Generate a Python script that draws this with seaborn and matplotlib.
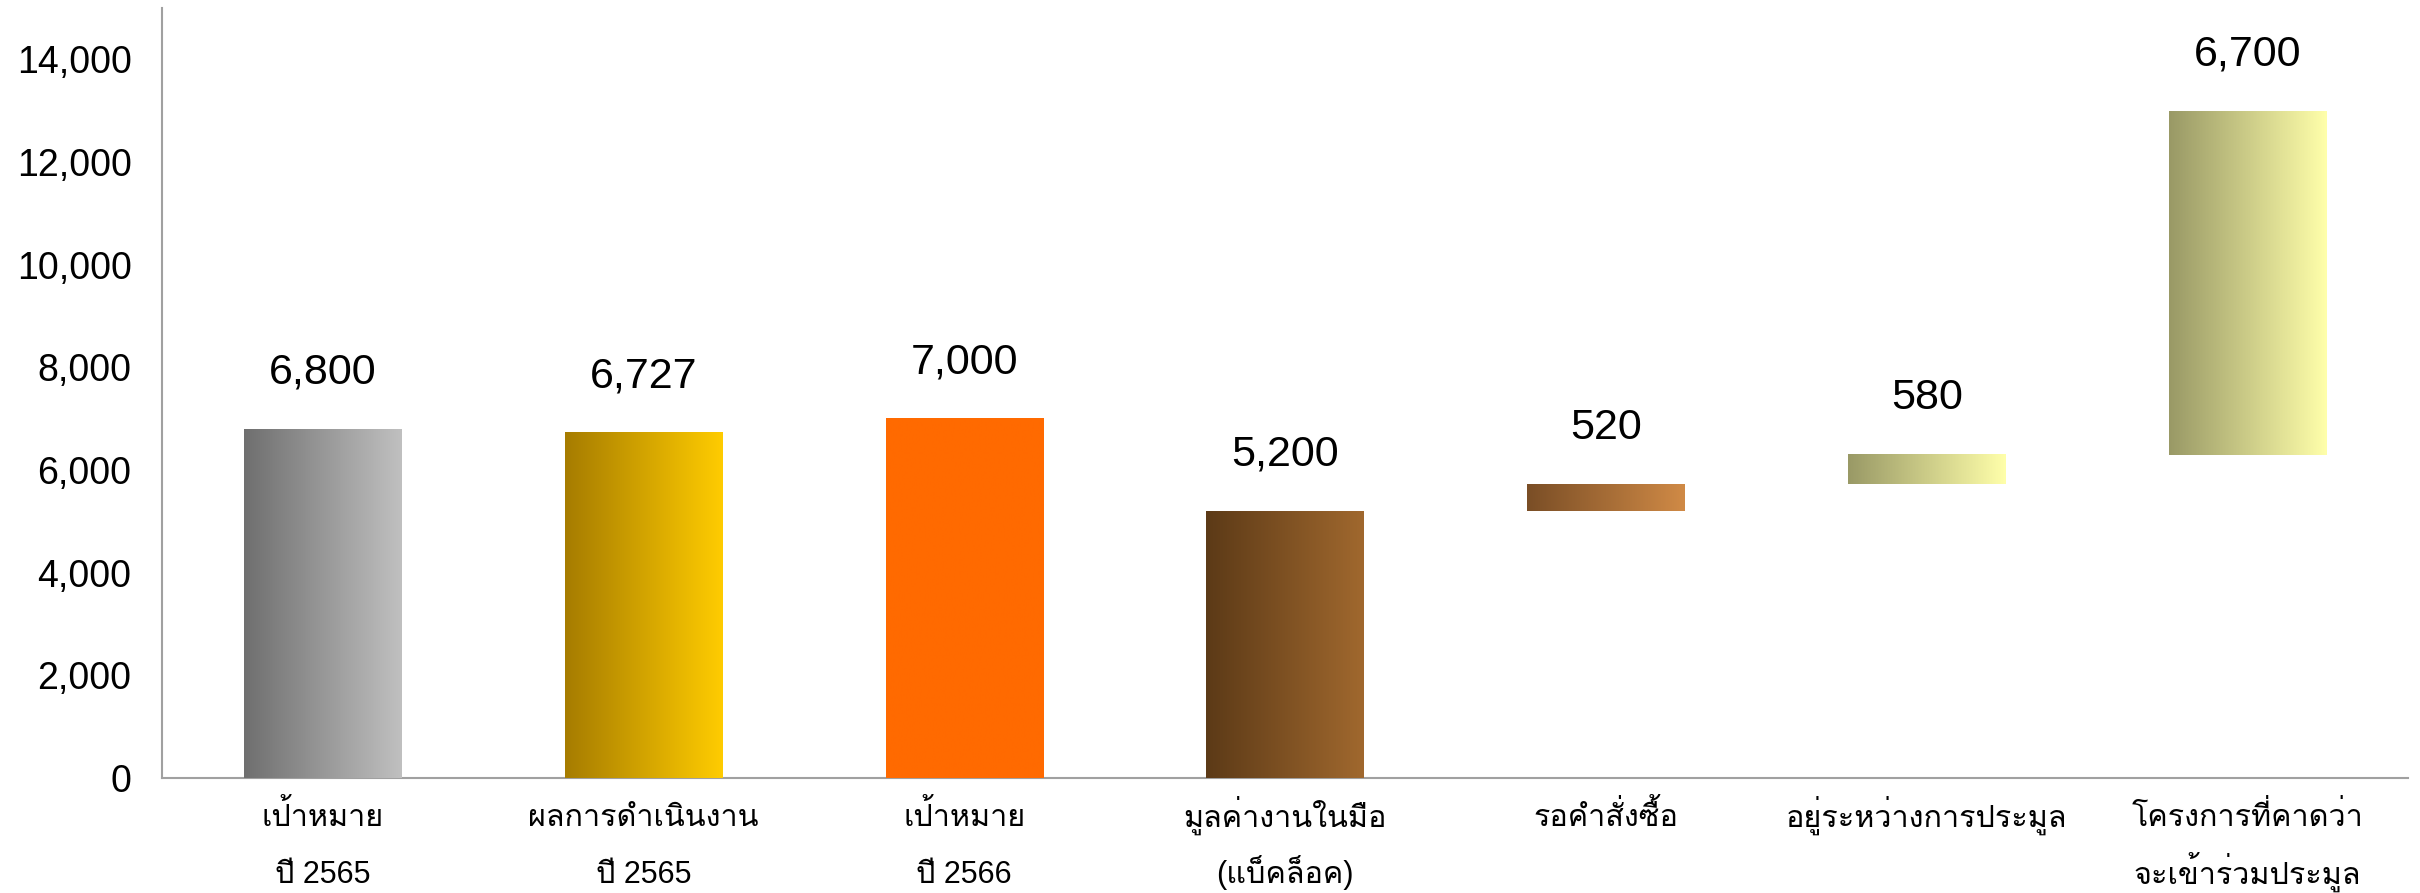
import numpy as np
import pandas as pd
import matplotlib
matplotlib.use("Agg")
import matplotlib.pyplot as plt
import seaborn as sns
from matplotlib import font_manager
from matplotlib.ft2font import FT2Font
from matplotlib.colors import LinearSegmentedColormap

# ข้อมูล
categories = ["เป้าหมาย\nปี 2565", "ผลการดำเนินงาน\nปี 2565", "เป้าหมาย\nปี 2566",
              "มูลค่างานในมือ\n(แบ็คล็อค)", "รอคำสั่งซื้อ", "อยู่ระหว่างการประมูล",
              "โครงการที่คาดว่า\nจะเข้าร่วมประมูล"]
values = [6800, 6727, 7000, 5200, 520, 580, 6700]
bases = [0, 0, 0, 0, 5200, 5720, 6300]
left_colors = ["#6f6f6f", "#a67c00", "#ff6a00", "#5c3a17", "#7a4e26", "#999966", "#999966"]
right_colors = ["#c0c0c0", "#ffcc00", "#ff6a00", "#a0682e", "#d08a46", "#ffffaa", "#ffffaa"]
yticks = [0, 2000, 4000, 6000, 8000, 10000, 12000, 14000]


def find_thai_font():
    # หาฟอนต์ที่มีอักษรไทย
    for f in font_manager.fontManager.ttflist:
        try:
            if 0x0E40 in FT2Font(f.fname).get_charmap():
                return f.name
        except Exception:
            pass
    return "DejaVu Sans"


sns.set_style("white")
thai_font = find_thai_font()
plt.rcParams['font.family'] = ['Liberation Sans', thai_font, 'DejaVu Sans']
plt.rcParams['text.color'] = 'black'
plt.rcParams['xtick.color'] = 'black'
plt.rcParams['ytick.color'] = 'black'

df = pd.DataFrame({"category": categories, "value": values})

fig = plt.figure(figsize=(24.2, 8.93), dpi=100)
ax = fig.add_axes([0.067, 0.129, 0.928, 0.862])
sns.barplot(data=df, x="category", y="value", width=0.49, color="#cccccc", ax=ax)

for i, patch in enumerate(ax.patches):
    patch.set_y(bases[i])
    x, w, h = patch.get_x(), patch.get_width(), patch.get_height()
    y = patch.get_y()
    cmap = LinearSegmentedColormap.from_list("g%d" % i, [left_colors[i], right_colors[i]])
    grad = np.linspace(0, 1, 256).reshape(1, -1)
    ax.imshow(grad, extent=[x, x + w, y, y + h], cmap=cmap, aspect="auto",
              interpolation="bilinear", zorder=3)
    patch.set_visible(False)
    ax.annotate("{:,}".format(values[i]), (x + w / 2, y + h),
                xytext=(0, 26), textcoords="offset points",
                ha="center", va="bottom", fontsize=31, color="black")

ax.set_xlim(-0.5, 6.5)
ax.set_ylim(0, 15000)
ax.set_yticks(yticks)
ax.set_yticklabels(["{:,}".format(v) for v in yticks], fontsize=27, color="black")
ax.set_xticks(range(len(categories)))
ax.set_xticklabels([])
ax.tick_params(axis="y", length=0, pad=22)
ax.tick_params(axis="x", length=0)
ax.set_xlabel("")
ax.set_ylabel("")

# ชื่อหมวด วางทีละบรรทัดให้ระยะบรรทัดเท่ากัน
for i, label in enumerate(categories):
    for j, line in enumerate(label.split("\n")):
        ax.annotate(line, (i, 0), xycoords=("data", "axes fraction"),
                    xytext=(0, -35 - 41 * j), textcoords="offset points",
                    ha="center", va="baseline", fontsize=22, color="black")

sns.despine(ax=ax)
for s in ["left", "bottom"]:
    ax.spines[s].set_color("#a0a0a0")
    ax.spines[s].set_linewidth(1.5)

fig.savefig("out.png", dpi=100)
